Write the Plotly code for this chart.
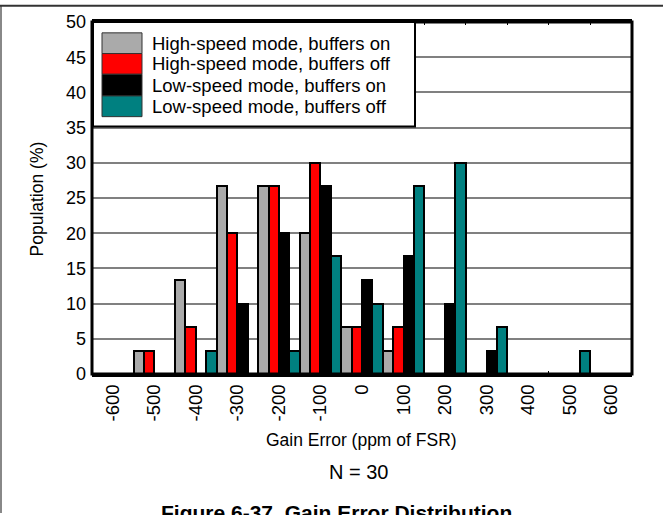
import plotly.graph_objects as go

categories = ["-600", "-500", "-400", "-300", "-200", "-100", "0",
              "100", "200", "300", "400", "500", "600"]
series_names = ["High-speed mode, buffers on", "High-speed mode, buffers off",
                "Low-speed mode, buffers on", "Low-speed mode, buffers off"]
hs_on = [0, 3.3, 13.3, 26.7, 26.7, 20, 6.7, 3.3, 0, 0, 0, 0, 0]
hs_off = [0, 3.3, 6.7, 20, 26.7, 30, 6.7, 6.7, 0, 0, 0, 0, 0]
ls_on = [0, 0, 0, 10, 20, 26.7, 13.3, 16.7, 10, 3.3, 0, 0, 0]
ls_off = [0, 0, 3.3, 0, 3.3, 16.7, 10, 26.7, 30, 6.7, 0, 3.3, 0]
series_values = [hs_on, hs_off, ls_on, ls_off]
colors = ["#AAAAAA", "#FF0000", "#000000", "#008080"]
y_ticks = list(range(0, 51, 5))

W, H = 663, 515
L, R, T, B = 92, 632, 17, 374
FONT = "Liberation Sans, Arial, sans-serif"


def px(x):
    return (x - L) / (R - L)


def py(y):
    return (B - y) / (B - T)


fig = go.Figure()
for name, vals, col in zip(series_names, series_values, colors):
    fig.add_trace(go.Bar(x=categories, y=vals, name=name,
                         marker=dict(color=col, line=dict(color="black", width=2))))

shapes = []
# plot frame
shapes.append(dict(type="rect", xref="paper", yref="paper", x0=0, x1=1, y0=0, y1=1,
                   line=dict(color="black", width=3), layer="above"))
# outer page frame lines
shapes.append(dict(type="line", xref="paper", yref="paper", x0=px(1), x1=px(1),
                   y0=py(0), y1=py(H), line=dict(color="#888888", width=2), layer="above"))
shapes.append(dict(type="line", xref="paper", yref="paper", x0=px(0), x1=px(W),
                   y0=py(0.5), y1=py(0.5), line=dict(color="#333333", width=2), layer="above"))
# legend box
shapes.append(dict(type="rect", xref="paper", yref="paper", x0=px(93), x1=px(415),
                   y0=py(123), y1=py(17), fillcolor="white",
                   line=dict(color="black", width=2), layer="above"))
annotations = []
sw_top = [28, 49, 70, 92]
sw_bot = [49, 70, 92, 113]
for i, (name, col) in enumerate(zip(series_names, colors)):
    shapes.append(dict(type="rect", xref="paper", yref="paper", x0=px(102), x1=px(142),
                       y0=py(sw_bot[i]), y1=py(sw_top[i]), fillcolor=col,
                       line=dict(color="#333333", width=1), layer="above"))
    annotations.append(dict(xref="paper", yref="paper", x=px(150),
                            y=py((sw_top[i] + sw_bot[i]) / 2), text=name, showarrow=False,
                            xanchor="left", yanchor="middle",
                            font=dict(family=FONT, size=18.5, color="black")))

annotations.append(dict(xref="paper", yref="paper", x=px(361), y=py(441),
                        text="Gain Error (ppm of FSR)", showarrow=False,
                        xanchor="center", yanchor="middle",
                        font=dict(family=FONT, size=17.5, color="black")))
annotations.append(dict(xref="paper", yref="paper", x=px(358), y=py(473),
                        text="N = 30", showarrow=False,
                        xanchor="center", yanchor="middle",
                        font=dict(family=FONT, size=20, color="black")))
annotations.append(dict(xref="paper", yref="paper", x=px(336), y=py(501),
                        text="<b>Figure 6-37. Gain Error Distribution</b>", showarrow=False,
                        xanchor="center", yanchor="top",
                        font=dict(family=FONT, size=21, color="black")))
annotations.append(dict(xref="paper", yref="paper", x=px(37), y=py(197),
                        text="Population (%)", showarrow=False, textangle=-90,
                        xanchor="center", yanchor="middle",
                        font=dict(family=FONT, size=17.5, color="black")))

fig.update_layout(
    width=W, height=H,
    margin=dict(l=L, r=W - R, t=T, b=H - B, pad=0),
    paper_bgcolor="white", plot_bgcolor="white",
    barmode="group", bargap=0, bargroupgap=0,
    showlegend=False,
    shapes=shapes, annotations=annotations,
    font=dict(family=FONT, size=17, color="black"),
)
fig.update_xaxes(type="category", categoryorder="array", categoryarray=categories,
                 tickangle=-90, tickfont=dict(size=18.5, color="black"),
                 ticks="inside", tickson="boundaries", ticklen=3, tickcolor="black",
                 showline=True, linecolor="black", linewidth=3, mirror="allticks",
                 showgrid=False, zeroline=False)
fig.update_yaxes(range=[0, 50], tickvals=y_ticks, ticktext=[str(v) for v in y_ticks],
                 tickfont=dict(size=18, color="black"),
                 showgrid=True, gridcolor="#808080", gridwidth=1.5,
                 zeroline=False, showline=False, ticks="", ticklabelstandoff=5)

fig.write_html("out.html",
               config={"displayModeBar": False},
               post_script="document.body.style.margin='0';"
                           "document.body.style.overflow='hidden';")
